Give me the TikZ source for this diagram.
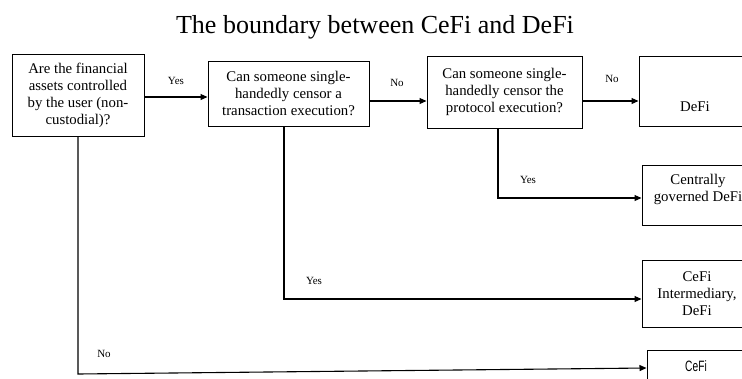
\documentclass[tikz,border=0pt]{standalone}
\usepackage{fontspec}
\setmainfont{Liberation Serif}
\newfontfamily\cefifont[FakeStretch=0.68]{Liberation Sans}
\usetikzlibrary{calc,arrows.meta}
\tikzset{
  qbox/.style={draw, line width=1pt, align=center, inner sep=0pt,
    font=\fontsize{14.8}{17}\selectfont},
  flow/.style={line width=1.1pt, -{Triangle[length=7pt,width=6pt]}},
  lbl/.style={inner sep=0pt, font=\fontsize{11}{12}\selectfont}
}
\begin{document}
\begin{tikzpicture}[x=1pt,y=-1pt]
  \clip (0,0) rectangle (742,378);
  \node (title) at (375,27) {\fontsize{26}{30}\selectfont The boundary between CeFi and DeFi};
  % questions
  \node[qbox, minimum width=132pt, minimum height=82pt] (qa) at (78,95.5)
    {Are the financial\\assets controlled\\by the user (non-\\custodial)?};
  \node[qbox, minimum width=161pt, minimum height=65pt] (qb) at (288.5,93.5)
    {Can someone single-\\handedly censor a\\transaction execution?};
  \node[qbox, minimum width=155pt, minimum height=72pt] (qc) at (504.5,92)
    {Can someone single-\\handedly censor the\\protocol execution?};
  % outcomes
  \node[qbox, minimum width=112pt, minimum height=70pt, text height=41pt, text depth=0pt] (defi) at (695,91) {DeFi};
  \node[qbox, minimum width=112pt, minimum height=60pt, text depth=14pt] (cgov) at (698,195)
    {Centrally\\governed DeFi};
  \node[qbox, minimum width=110pt, minimum height=67pt] (inter) at (697,293.5)
    {CeFi\\Intermediary,\\DeFi};
  \node[qbox, minimum width=102pt, minimum height=60pt, text height=11pt, text depth=29pt] (cefi) at (698,380)
    {\fontsize{15}{17}\cefifont CeFi\hspace*{4pt}};
  % connectors
  \draw[flow] ($(qa.east)+(0,1.5)$) coordinate (ab) -- (qb.west |- ab);
  \draw[flow] ($(qb.east)+(0,7.5)$) coordinate (bc) -- (qc.west |- bc);
  \draw[flow] ($(qc.east)+(0,9)$) coordinate (cd) -- (defi.west |- cd);
  \draw[flow] ($(qc.south)+(-6.5,0)$) |- ($(cgov.west)+(0,3)$);
  \draw[flow] ($(qb.south)+(-4.5,0)$) |- ($(inter.west)+(0,5.5)$);
  \coordinate (corner) at (77,374);
  \draw[flow] (qa.south) -- (qa.south |- corner) -- ($(cefi.west)+(0,-12)$);
  % labels
  \node[lbl] (yesab) at (176,81) {Yes};
  \node[lbl] (nobc) at (397,83) {No};
  \node[lbl] (nocd) at (612,79) {No};
  \node[lbl] (yesc) at (528,180) {Yes};
  \node[lbl] (yesb) at (314,281) {Yes};
  \node[lbl] (noa) at (104,354) {No};
\end{tikzpicture}
\end{document}
